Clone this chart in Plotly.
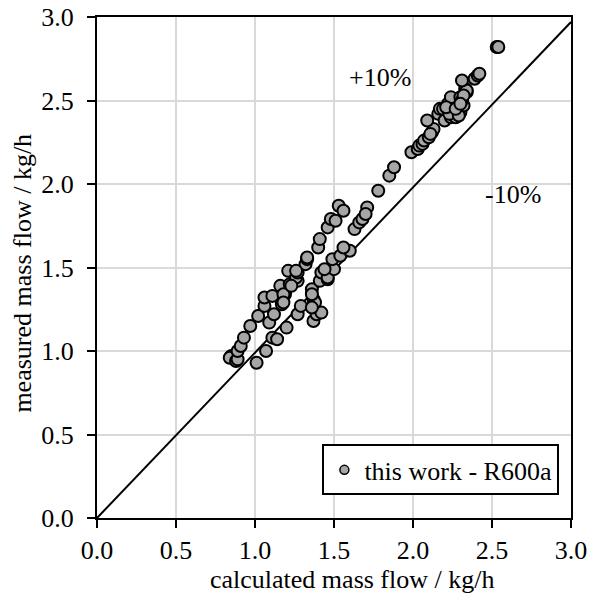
import plotly.graph_objects as go

# calculated vs. measured mass flow of R600a (kg/h)
calc_flow = [
    0.85, 0.84, 0.88, 0.89, 0.89, 0.91, 0.93, 0.97, 1.01, 1.07, 1.11, 1.14, 1.20,
    1.02, 1.06, 1.09, 1.12, 1.06, 1.11, 1.17, 1.19, 1.16, 1.22, 1.21, 1.27, 1.26,
    1.27, 1.32, 1.33, 1.26, 1.18, 1.18, 1.23,
    1.27, 1.29, 1.36, 1.37, 1.37, 1.39, 1.42, 1.38, 1.43, 1.41, 1.46, 1.36, 1.36,
    1.42, 1.46, 1.50, 1.44, 1.49, 1.54, 1.60, 1.56, 1.63, 1.66, 1.68, 1.71, 1.70,
    1.78, 1.85, 1.88,
    1.40, 1.41, 1.46, 1.48, 1.51, 1.53, 1.56, 1.33,
    1.99, 2.03, 2.04, 2.06, 2.07, 2.10, 2.12, 2.13, 2.11, 2.09, 2.16, 2.17, 2.19,
    2.20, 2.24, 2.26, 2.22, 2.26, 2.25, 2.28, 2.28, 2.29, 2.25, 2.24, 2.30, 2.33,
    2.34, 2.34, 2.31, 2.39, 2.41, 2.42, 2.53, 2.54, 2.27, 2.30, 2.32, 2.31, 2.23,
    2.21, 2.29, 2.32, 2.27, 2.30,
]
meas_flow = [
    0.97, 0.96, 0.94, 0.95, 1.00, 1.03, 1.08, 1.15, 0.93, 1.00, 1.08, 1.07, 1.14,
    1.21, 1.27, 1.17, 1.22, 1.32, 1.33, 1.28, 1.34, 1.39, 1.40, 1.48, 1.42, 1.44,
    1.47, 1.52, 1.55, 1.48, 1.34, 1.29, 1.39,
    1.22, 1.27, 1.37, 1.31, 1.18, 1.22, 1.23, 1.29, 1.46, 1.42, 1.43, 1.26, 1.34,
    1.47, 1.44, 1.49, 1.49, 1.55, 1.57, 1.60, 1.62, 1.73, 1.77, 1.79, 1.86, 1.82,
    1.96, 2.05, 2.10,
    1.62, 1.67, 1.74, 1.79, 1.78, 1.87, 1.84, 1.56,
    2.19, 2.21, 2.23, 2.24, 2.26, 2.28, 2.31, 2.33, 2.30, 2.38, 2.42, 2.45, 2.45,
    2.38, 2.40, 2.41, 2.48, 2.48, 2.44, 2.46, 2.44, 2.49, 2.50, 2.52, 2.52, 2.57,
    2.55, 2.56, 2.62, 2.63, 2.65, 2.66, 2.82, 2.82, 2.40, 2.43, 2.47, 2.50, 2.42,
    2.46, 2.41, 2.53, 2.45, 2.48,
]

# reference line
ref_x = [0.0, 3.0]
ref_y = [0.0, 2.97]

# band annotations
band_labels = ["+10%", "-10%"]
band_x = [1.79, 2.63]
band_y = [2.64, 1.94]

axis_ticks = [0.0, 0.5, 1.0, 1.5, 2.0, 2.5, 3.0]
tick_text = ["0.0", "0.5", "1.0", "1.5", "2.0", "2.5", "3.0"]

x_title = "calculated mass flow / kg/h"
y_title = "measured mass flow / kg/h"

FONT = "Liberation Serif, Times New Roman, serif"
FS = 26
FILL = "#a6a6a6"

fig = go.Figure()

fig.add_trace(go.Scatter(
    x=ref_x, y=ref_y, mode="lines",
    line=dict(color="black", width=2),
    showlegend=False, hoverinfo="skip",
))

fig.add_trace(go.Scatter(
    x=calc_flow, y=meas_flow, mode="markers",
    marker=dict(size=12, color=FILL, line=dict(color="black", width=2)),
    showlegend=False,
))

# legend entry with a smaller symbol
fig.add_trace(go.Scatter(
    x=[None], y=[None], mode="markers",
    marker=dict(size=9, color=FILL, line=dict(color="black", width=1.5)),
    name="this work - R600a",
))

for txt, bx, by in zip(band_labels, band_x, band_y):
    fig.add_annotation(x=bx, y=by, text=txt, showarrow=False,
                       font=dict(family=FONT, size=FS, color="black"))

# axis titles placed as paper annotations
fig.add_annotation(x=0.538, y=-0.122, xref="paper", yref="paper", text=x_title,
                   showarrow=False, xanchor="center", yanchor="middle",
                   font=dict(family=FONT, size=FS, color="black"))
fig.add_annotation(x=-0.158, y=0.488, xref="paper", yref="paper", text=y_title,
                   showarrow=False, xanchor="center", yanchor="middle",
                   textangle=-90,
                   font=dict(family=FONT, size=FS, color="black"))

axis_common = dict(
    range=[0, 3],
    tickvals=axis_ticks,
    ticktext=tick_text,
    showgrid=True,
    gridcolor="#d9d9d9",
    gridwidth=1.5,
    zeroline=False,
    showline=True,
    linecolor="black",
    linewidth=2,
    mirror=True,
    ticks="outside",
    ticklen=8,
    tickwidth=2,
    tickcolor="black",
    automargin=False,
    tickfont=dict(family=FONT, size=FS, color="black"),
)

fig.update_layout(
    width=590,
    height=593,
    margin=dict(l=97, r=19, t=17, b=75),
    paper_bgcolor="white",
    plot_bgcolor="white",
    font=dict(family=FONT, size=FS, color="black"),
    xaxis=dict(**axis_common),
    yaxis=dict(**axis_common, ticklabelstandoff=8),
    legend=dict(
        x=0.9755, y=0.045, xanchor="right", yanchor="bottom",
        bgcolor="white", bordercolor="black", borderwidth=2,
        font=dict(family=FONT, size=FS, color="black"),
        itemwidth=30,
        entrywidth=242,
    ),
    showlegend=True,
)

fig.write_html("out.html")
